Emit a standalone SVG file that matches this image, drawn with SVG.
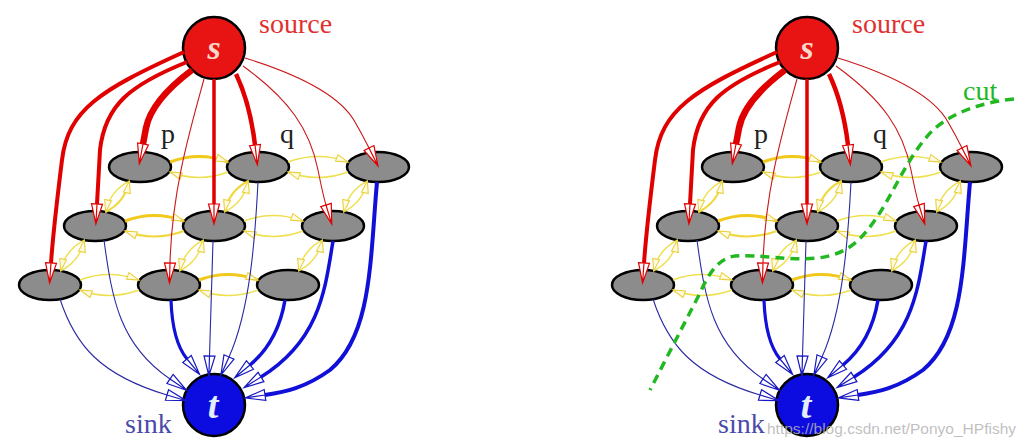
<svg xmlns="http://www.w3.org/2000/svg" width="1027" height="447" viewBox="0 0 1027 447">
<style>
.bg{fill:#fff}
.n{fill:#8c8c8c;stroke:#000;stroke-width:2.5}
.sc{fill:#e81414;stroke:#000;stroke-width:2.5}
.tc{fill:#0c0ce0;stroke:#000;stroke-width:2.5}
.r{fill:none;stroke:#e00000;marker-end:url(#ar)}
.rt{fill:none;stroke:#c81818;stroke-width:1.1;marker-end:url(#ar)}
.b{fill:none;stroke:#1010d8;marker-end:url(#ab)}
.bt{fill:none;stroke:#2a2aa0;stroke-width:1.1;marker-end:url(#ab)}
.y{fill:none;stroke:#efe050;stroke-width:1.5;marker-end:url(#ay)}
.yk{fill:none;stroke:#f2c81a;stroke-width:3.2;marker-end:url(#ay)}
.ym{fill:none;stroke:#f0d840;stroke-width:2.2;marker-end:url(#ay)}
.lbl{font-family:"Liberation Serif",serif;font-size:28px}
.ltr{font-family:"Liberation Serif",serif;font-weight:bold;font-style:italic;text-anchor:middle}
.cut{fill:none;stroke:#22b822;stroke-width:3.5;stroke-dasharray:9 6}
</style>
<defs>
<marker id="ar" viewBox="0 0 20 11" refX="0" refY="5.5" markerWidth="20" markerHeight="11" markerUnits="userSpaceOnUse" orient="auto" overflow="visible"><path d="M0,0 L20,5.5 L0,11 Z M0,5.5 L20,5.5" fill="#fff" stroke="#e00000" stroke-width="1.2"/></marker>
<marker id="ab" viewBox="0 0 20 11" refX="0" refY="5.5" markerWidth="20" markerHeight="11" markerUnits="userSpaceOnUse" orient="auto" overflow="visible"><path d="M0,0 L20,5.5 L0,11 Z M0,5.5 L20,5.5" fill="#fff" stroke="#1818c0" stroke-width="1.2"/></marker>
<marker id="ay" viewBox="0 0 12 7" refX="12" refY="3.5" markerWidth="12" markerHeight="7" markerUnits="userSpaceOnUse" orient="auto" overflow="visible"><path d="M0,0 L12,3.5 L0,7 Z" fill="#fffbe0" stroke="#ead040" stroke-width="1.1"/></marker>
</defs>
<rect class="bg" x="0" y="0" width="1027" height="447"/>

<!-- LEFT GRAPH -->
<g id="left">
<g id="L-nodes">
<g id="L-s"><circle class="sc" cx="214" cy="48" r="31"/><text class="ltr" x="214" y="59" font-size="34" fill="#f8d8cc">s</text></g>
<g id="L-t"><circle class="tc" cx="214" cy="405" r="31"/><text class="ltr" x="213" y="418" font-size="38" fill="#e4ecff">t</text></g>
<g id="L-n11"><ellipse class="n" cx="140" cy="167" rx="31" ry="15"/></g>
<g id="L-n12"><ellipse class="n" cx="258" cy="167" rx="31" ry="15"/></g>
<g id="L-n13"><ellipse class="n" cx="378" cy="167" rx="31" ry="15"/></g>
<g id="L-n21"><ellipse class="n" cx="95" cy="226" rx="31" ry="15"/></g>
<g id="L-n22"><ellipse class="n" cx="214" cy="226" rx="31" ry="15"/></g>
<g id="L-n23"><ellipse class="n" cx="333" cy="226" rx="31" ry="15"/></g>
<g id="L-n31"><ellipse class="n" cx="50" cy="285" rx="31" ry="15"/></g>
<g id="L-n32"><ellipse class="n" cx="169" cy="285" rx="31" ry="15"/></g>
<g id="L-n33"><ellipse class="n" cx="288" cy="285" rx="31" ry="15"/></g>
</g>
<g id="L-connectors">
<g transform="translate(140,167)"><path class="yk" d="M30,-5 Q59,-16 88,-5"/><path class="y" d="M88,5 Q59,16 30,5"/></g>
<g transform="translate(258,167)"><path class="y" d="M30,-5 Q60,-16 90,-5"/><path class="y" d="M90,5 Q60,16 30,5"/></g>
<g transform="translate(95,226)"><path class="yk" d="M30,-5 Q59,-16 89,-5"/><path class="ym" d="M89,5 Q59,16 30,5"/></g>
<g transform="translate(214,226)"><path class="y" d="M30,-5 Q59,-16 89,-5"/><path class="y" d="M89,5 Q59,16 30,5"/></g>
<g transform="translate(50,285)"><path class="y" d="M30,-5 Q59,-16 89,-5"/><path class="y" d="M89,5 Q59,16 30,5"/></g>
<g transform="translate(169,285)"><path class="yk" d="M30,-5 Q59,-16 89,-5"/><path class="y" d="M89,5 Q59,16 30,5"/></g>
<g transform="translate(95,226)"><path class="ym" d="M10.7,-14.1 Q30,-24 34.3,-44.9"/><path class="y" d="M34.3,-44.9 Q15,-35 10.7,-14.1"/></g>
<g transform="translate(214,226)"><path class="y" d="M10.7,-14.1 Q30,-24 34.3,-44.9"/><path class="ym" d="M34.3,-44.9 Q15,-35 10.7,-14.1"/></g>
<g transform="translate(333,226)"><path class="y" d="M10.7,-14.1 Q30,-24 34.3,-44.9"/><path class="y" d="M34.3,-44.9 Q15,-35 10.7,-14.1"/></g>
<g transform="translate(50,285)"><path class="y" d="M10.7,-14.1 Q30,-24 34.3,-44.9"/><path class="y" d="M34.3,-44.9 Q15,-35 10.7,-14.1"/></g>
<g transform="translate(169,285)"><path class="y" d="M10.7,-14.1 Q30,-24 34.3,-44.9"/><path class="y" d="M34.3,-44.9 Q15,-35 10.7,-14.1"/></g>
<g transform="translate(288,285)"><path class="y" d="M10.7,-14.1 Q30,-24 34.3,-44.9"/><path class="y" d="M34.3,-44.9 Q15,-35 10.7,-14.1"/></g>
<path class="r" stroke-width="4" d="M184,52 C100,90 68,110 62,160 C57,200 53,235 51,263"/>
<path class="r" stroke-width="4" d="M187,62 C130,85 105,105 100,150 L97,204"/>
<path class="r" stroke-width="6.5" d="M192,70 C168,88 150,108 146,128 L143,144"/>
<path class="rt" d="M204,79 C190,130 172,190 170,263"/>
<path class="r" stroke-width="3.5" d="M214,79 L214,204"/>
<path class="r" stroke-width="4.5" d="M236,74 C246,95 252,120 255,145"/>
<path class="rt" d="M243,66 C290,100 310,130 318,170 C321,185 323,195 326,205"/>
<path class="rt" d="M245,58 C300,75 340,95 355,122 C362,134 366,142 369,148"/>
<path class="bt" d="M60,299 C75,345 100,375 167,395"/>
<path class="bt" d="M104,240 C112,300 120,345 170,379"/>
<path class="b" stroke-width="3.2" d="M171,300 C172,330 178,348 187,359"/>
<path class="bt" d="M213,241 L209.5,356"/>
<path class="bt" d="M258,182 C255,240 250,310 229,357"/>
<path class="b" stroke-width="3.5" d="M285,300 C280,330 268,350 250,365"/>
<path class="b" stroke-width="3.5" d="M333,241 C325,290 320,340 261,377"/>
<path class="b" stroke-width="4" d="M377,182 C370,260 372,335 330,370 C305,388 285,392 265,395"/>
</g>
<text class="lbl" x="259" y="33" fill="#e03030">source</text>
<text class="lbl" x="125" y="433" fill="#4a4aa8">sink</text>
<text class="lbl" x="161" y="143" fill="#222">p</text>
<text class="lbl" x="280" y="143" fill="#222">q</text>
</g>

<!-- RIGHT GRAPH -->
<g id="right" transform="translate(593,0)">
<g id="R-nodes">
<g id="R-s"><circle class="sc" cx="214" cy="48" r="31"/><text class="ltr" x="214" y="59" font-size="34" fill="#f8d8cc">s</text></g>
<g id="R-t"><circle class="tc" cx="214" cy="405" r="31"/><text class="ltr" x="213" y="418" font-size="38" fill="#e4ecff">t</text></g>
<g id="R-n11"><ellipse class="n" cx="140" cy="167" rx="31" ry="15"/></g>
<g id="R-n12"><ellipse class="n" cx="258" cy="167" rx="31" ry="15"/></g>
<g id="R-n13"><ellipse class="n" cx="378" cy="167" rx="31" ry="15"/></g>
<g id="R-n21"><ellipse class="n" cx="95" cy="226" rx="31" ry="15"/></g>
<g id="R-n22"><ellipse class="n" cx="214" cy="226" rx="31" ry="15"/></g>
<g id="R-n23"><ellipse class="n" cx="333" cy="226" rx="31" ry="15"/></g>
<g id="R-n31"><ellipse class="n" cx="50" cy="285" rx="31" ry="15"/></g>
<g id="R-n32"><ellipse class="n" cx="169" cy="285" rx="31" ry="15"/></g>
<g id="R-n33"><ellipse class="n" cx="288" cy="285" rx="31" ry="15"/></g>
</g>
<g id="R-connectors">
<g transform="translate(140,167)"><path class="yk" d="M30,-5 Q59,-16 88,-5"/><path class="y" d="M88,5 Q59,16 30,5"/></g>
<g transform="translate(258,167)"><path class="y" d="M30,-5 Q60,-16 90,-5"/><path class="y" d="M90,5 Q60,16 30,5"/></g>
<g transform="translate(95,226)"><path class="yk" d="M30,-5 Q59,-16 89,-5"/><path class="ym" d="M89,5 Q59,16 30,5"/></g>
<g transform="translate(214,226)"><path class="y" d="M30,-5 Q59,-16 89,-5"/><path class="y" d="M89,5 Q59,16 30,5"/></g>
<g transform="translate(50,285)"><path class="y" d="M30,-5 Q59,-16 89,-5"/><path class="y" d="M89,5 Q59,16 30,5"/></g>
<g transform="translate(169,285)"><path class="yk" d="M30,-5 Q59,-16 89,-5"/><path class="y" d="M89,5 Q59,16 30,5"/></g>
<g transform="translate(95,226)"><path class="ym" d="M10.7,-14.1 Q30,-24 34.3,-44.9"/><path class="y" d="M34.3,-44.9 Q15,-35 10.7,-14.1"/></g>
<g transform="translate(214,226)"><path class="y" d="M10.7,-14.1 Q30,-24 34.3,-44.9"/><path class="ym" d="M34.3,-44.9 Q15,-35 10.7,-14.1"/></g>
<g transform="translate(333,226)"><path class="y" d="M10.7,-14.1 Q30,-24 34.3,-44.9"/><path class="y" d="M34.3,-44.9 Q15,-35 10.7,-14.1"/></g>
<g transform="translate(50,285)"><path class="y" d="M10.7,-14.1 Q30,-24 34.3,-44.9"/><path class="y" d="M34.3,-44.9 Q15,-35 10.7,-14.1"/></g>
<g transform="translate(169,285)"><path class="y" d="M10.7,-14.1 Q30,-24 34.3,-44.9"/><path class="y" d="M34.3,-44.9 Q15,-35 10.7,-14.1"/></g>
<g transform="translate(288,285)"><path class="y" d="M10.7,-14.1 Q30,-24 34.3,-44.9"/><path class="y" d="M34.3,-44.9 Q15,-35 10.7,-14.1"/></g>
<path class="r" stroke-width="4" d="M184,52 C100,90 68,110 62,160 C57,200 53,235 51,263"/>
<path class="r" stroke-width="4" d="M187,62 C130,85 105,105 100,150 L97,204"/>
<path class="r" stroke-width="6.5" d="M192,70 C168,88 150,108 146,128 L143,144"/>
<path class="rt" d="M204,79 C190,130 172,190 170,263"/>
<path class="r" stroke-width="3.5" d="M214,79 L214,204"/>
<path class="r" stroke-width="4.5" d="M236,74 C246,95 252,120 255,145"/>
<path class="rt" d="M243,66 C290,100 310,130 318,170 C321,185 323,195 326,205"/>
<path class="rt" d="M245,58 C300,75 340,95 355,122 C362,134 366,142 369,148"/>
<path class="bt" d="M60,299 C75,345 100,375 167,395"/>
<path class="bt" d="M104,240 C112,300 120,345 170,379"/>
<path class="b" stroke-width="3.2" d="M171,300 C172,330 178,348 187,359"/>
<path class="bt" d="M213,241 L209.5,356"/>
<path class="bt" d="M258,182 C255,240 250,310 229,357"/>
<path class="b" stroke-width="3.5" d="M285,300 C280,330 268,350 250,365"/>
<path class="b" stroke-width="3.5" d="M333,241 C325,290 320,340 261,377"/>
<path class="b" stroke-width="4" d="M377,182 C370,260 372,335 330,370 C305,388 285,392 265,395"/>
</g>
<path id="R-cut" class="cut" d="M421,99 C390,102 360,112 340,130 C315,155 300,195 282,220 C268,240 255,254 225,258 C195,261 165,254 142,256 C125,258 115,275 107,293 L57,390"/>
<text class="lbl" x="259" y="33" fill="#e03030">source</text>
<text class="lbl" x="125" y="433" fill="#4a4aa8">sink</text>
<text class="lbl" x="161" y="143" fill="#222">p</text>
<text class="lbl" x="280" y="143" fill="#222">q</text>
<text class="lbl" x="370" y="100" fill="#22b822">cut</text>
</g>
<text x="767" y="434" font-family="Liberation Sans, Arial, sans-serif" font-size="15.5" fill="#b4b4b4" fill-opacity="0.85">https://blog.csdn.net/Ponyo_HPfishy</text>
</svg>
